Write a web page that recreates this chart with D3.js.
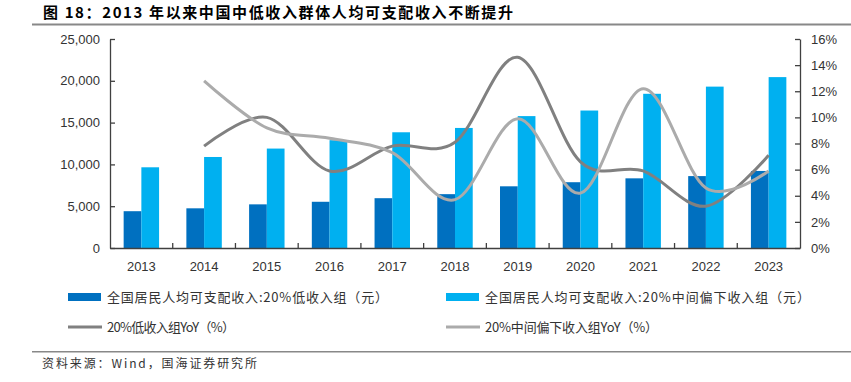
<!DOCTYPE html>
<html><head><meta charset="utf-8">
<script src="https://cdn.jsdelivr.net/npm/d3@7"></script>
<style>body{margin:0;background:#fff}svg{display:block}</style>
</head><body><svg id="c" width="851" height="382"></svg>
<script>
const years = ["2013","2014","2015","2016","2017","2018","2019","2020","2021","2022","2023"];
const lowIncome = [4402,4747,5221,5529,5958,6440,7380,7869,8333,8601,9215];
const lowerMiddleIncome = [9654,10887,11894,12899,13843,14361,15777,16443,18446,19303,20442];
const lowYoY = [null,7.8,10.0,5.9,7.8,8.1,14.6,6.6,5.9,3.2,7.1];
const lowerMiddleYoY = [null,12.8,9.2,8.4,7.3,3.7,9.9,4.2,12.2,4.6,5.9];
const leftTicks = [0,5000,10000,15000,20000,25000];
const rightTicks = [0,2,4,6,8,10,12,14,16];
const titleText = "图 18：2013 年以来中国中低收入群体人均可支配收入不断提升";
const legendLabels = ["全国居民人均可支配收入:20%低收入组（元）","全国居民人均可支配收入:20%中间偏下收入组（元）","20%低收入组YoY（%）","20%中间偏下收入组YoY（%）"];
const sourceText = "资料来源：Wind，国海证券研究所";

const C = {dark:"#0070c0", light:"#00b0f0", lineDark:"#808080", lineLight:"#ababab", axis:"#404040", text:"#333"};
const svg = d3.select("#c");
const cjk = "'Noto Sans CJK SC','Noto Sans',sans-serif";
const lat = "'Liberation Sans',Arial,sans-serif";

const x = d3.scaleBand().domain(years).range([110,800]).padding(0);
const xs = d3.scaleBand().domain(["low","mid"]).range([0,x.bandwidth()]).paddingInner(0).paddingOuter(0.77);
const yL = d3.scaleLinear().domain([0,25000]).range([248,39]);
const yR = d3.scaleLinear().domain([0,16]).range([248,39]);

// title
svg.append("text").attr("x",43).attr("y",17.5).attr("font-family",cjk).attr("font-weight",700)
  .attr("font-size",15).attr("fill","#000").attr("textLength",470).attr("lengthAdjust","spacing").text(titleText);
svg.append("line").attr("x1",32).attr("x2",851).attr("y1",24.5).attr("y2",24.5).attr("stroke","#888").attr("stroke-width",2);

// bars
const g = svg.append("g");
years.forEach((yr,i)=>{
  g.append("rect").attr("x",x(yr)+xs("low")).attr("width",xs.bandwidth()).attr("y",yL(lowIncome[i])).attr("height",yL(0)-yL(lowIncome[i])).attr("fill",C.dark);
  g.append("rect").attr("x",x(yr)+xs("mid")).attr("width",xs.bandwidth()).attr("y",yL(lowerMiddleIncome[i])).attr("height",yL(0)-yL(lowerMiddleIncome[i])).attr("fill",C.light);
});

// axes
const ax = svg.append("g").attr("transform","translate(110,0)")
  .call(d3.axisLeft(yL).tickValues(leftTicks).tickFormat(d3.format(",")).tickSizeInner(-5).tickSizeOuter(0).tickPadding(10));
const ar = svg.append("g").attr("transform","translate(800,0)")
  .call(d3.axisRight(yR).tickValues(rightTicks).tickFormat(d=>d+"%").tickSizeInner(-5).tickSizeOuter(0).tickPadding(11));
const ab = svg.append("g").attr("transform","translate(0,248)")
  .call(d3.axisBottom(x).tickSize(0).tickPadding(14).tickSizeOuter(0));
[ax,ar,ab].forEach(a=>{
  a.selectAll("path.domain").attr("stroke",C.axis).attr("stroke-width",1.3);
  a.selectAll(".tick line").attr("stroke",C.axis).attr("stroke-width",1.3);
  a.selectAll("text").attr("font-family",lat).attr("font-size",13).attr("fill",C.text);
});
years.slice(1).forEach(yr=>{
  ab.append("line").attr("x1",x(yr)).attr("x2",x(yr)).attr("y1",0).attr("y2",-5).attr("stroke",C.axis).attr("stroke-width",1.3);
});

// lines
const line = d3.line().defined(d=>d.v!=null).x(d=>x(d.yr)+x.bandwidth()/2).y(d=>yR(d.v)).curve(d3.curveCardinal.tension(0));
svg.append("path").datum(years.map((yr,i)=>({yr,v:lowYoY[i]}))).attr("d",line).attr("fill","none").attr("stroke",C.lineDark).attr("stroke-width",3);
svg.append("path").datum(years.map((yr,i)=>({yr,v:lowerMiddleYoY[i]}))).attr("d",line).attr("fill","none").attr("stroke",C.lineLight).attr("stroke-width",3);

// legend
const lg = svg.append("g").attr("font-family",cjk).attr("font-size",13).attr("fill",C.text);
const items = [
  {x:68,y:297,type:"rect",c:C.dark,tx:107,w:281,t:legendLabels[0]},
  {x:446,y:297,type:"rect",c:C.light,tx:485,w:325,t:legendLabels[1]},
  {x:68,y:327,type:"line",c:C.lineDark,tx:107,w:128,t:legendLabels[2]},
  {x:446,y:327,type:"line",c:C.lineLight,tx:485,w:173,t:legendLabels[3]}
];
items.forEach(it=>{
  if(it.type==="rect") lg.append("rect").attr("x",it.x).attr("y",it.y-4).attr("width",33).attr("height",8).attr("fill",it.c);
  else lg.append("line").attr("x1",it.x).attr("x2",it.x+34).attr("y1",it.y).attr("y2",it.y).attr("stroke",it.c).attr("stroke-width",3);
  lg.append("text").attr("x",it.tx).attr("y",it.y).attr("dy","0.36em").attr("textLength",it.w).attr("lengthAdjust","spacing").text(it.t);
});

// source
svg.append("line").attr("x1",32).attr("x2",851).attr("y1",351.8).attr("y2",351.8).attr("stroke","#888").attr("stroke-width",1.5);
svg.append("text").attr("x",42).attr("y",364).attr("dy","0.36em").attr("font-family",cjk).attr("font-size",12).attr("fill",C.text)
  .attr("textLength",215).attr("lengthAdjust","spacing").text(sourceText);
</script></body></html>
